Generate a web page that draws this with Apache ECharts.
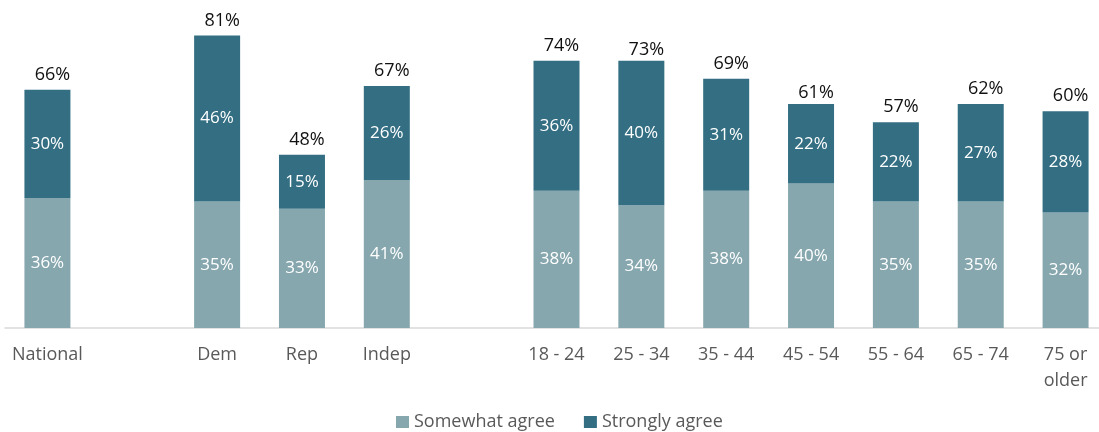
<!DOCTYPE html>
<html>
<head>
<meta charset="utf-8">
<script src="https://cdn.jsdelivr.net/npm/echarts@6/dist/echarts.min.js"></script>
<style>
  html, body { margin: 0; padding: 0; background: #fff; }
  #chart { width: 1099px; height: 432px; }
</style>
</head>
<body>
<div id="chart"></div>
<script>
// categories (empty strings are the gaps between groups)
var categories = ['National', '', 'Dem', 'Rep', 'Indep', '', '18 - 24', '25 - 34', '35 - 44', '45 - 54', '55 - 64', '65 - 74', '75 or\nolder']
var somewhat = [36, '-', 35, 33, 41, '-', 38, 34, 38, 40, 35, 35, 32]
var strongly = [30, '-', 46, 15, 26, '-', 36, 40, 31, 22, 22, 27, 28]
var totals = [66, '-', 81, 48, 67, '-', 74, 73, 69, 61, 57, 62, 60]

var FONT = '"Open Sans", "Noto Sans", sans-serif'

var myChart = echarts.init(document.getElementById('chart'))
myChart.setOption({
  backgroundColor: '#ffffff',
  animation: false,
  legend: {
    left: 396,
    top: 413,
    padding: 0,
    itemWidth: 13,
    itemHeight: 12,
    itemGap: 29,
    icon: 'rect',
    textStyle: { fontFamily: FONT, fontSize: 18, color: '#595959' },
    data: ['Somewhat agree', 'Strongly agree']
  },
  grid: { left: 5, top: 3, width: 1103, height: 325, containLabel: false, outerBoundsMode: 'none' },
  xAxis: {
    type: 'category',
    data: categories,
    axisTick: { show: false },
    axisLine: { lineStyle: { color: '#d9d9d9', width: 1.5 } },
    axisLabel: {
      interval: 0,
      margin: 14,
      fontFamily: FONT,
      fontSize: 18,
      lineHeight: 26,
      color: '#595959'
    }
  },
  yAxis: {
    type: 'value',
    min: 0,
    max: 90,
    show: false,
    splitLine: { show: false }
  },
  series: [
    {
      name: 'Somewhat agree',
      type: 'bar',
      stack: 'total',
      barWidth: 46,
      itemStyle: { color: '#87a7af' },
      label: {
        show: true,
        position: 'inside',
        formatter: '{c}%',
        fontFamily: FONT,
        fontSize: 17,
        color: '#ffffff'
      },
      data: somewhat
    },
    {
      name: 'Strongly agree',
      type: 'bar',
      stack: 'total',
      barWidth: 46,
      itemStyle: { color: '#336e82' },
      label: {
        show: true,
        position: 'inside',
        formatter: '{c}%',
        fontFamily: FONT,
        fontSize: 17,
        color: '#ffffff'
      },
      data: strongly
    },
    {
      name: 'Total',
      type: 'bar',
      barWidth: 46,
      barGap: '-100%',
      silent: true,
      itemStyle: { color: 'rgba(0,0,0,0)' },
      label: {
        show: true,
        position: 'top',
        distance: 6,
        offset: [5, 0],
        formatter: '{c}%',
        fontFamily: FONT,
        fontSize: 18,
        color: '#111111'
      },
      data: totals
    }
  ]
})
</script>
</body>
</html>
